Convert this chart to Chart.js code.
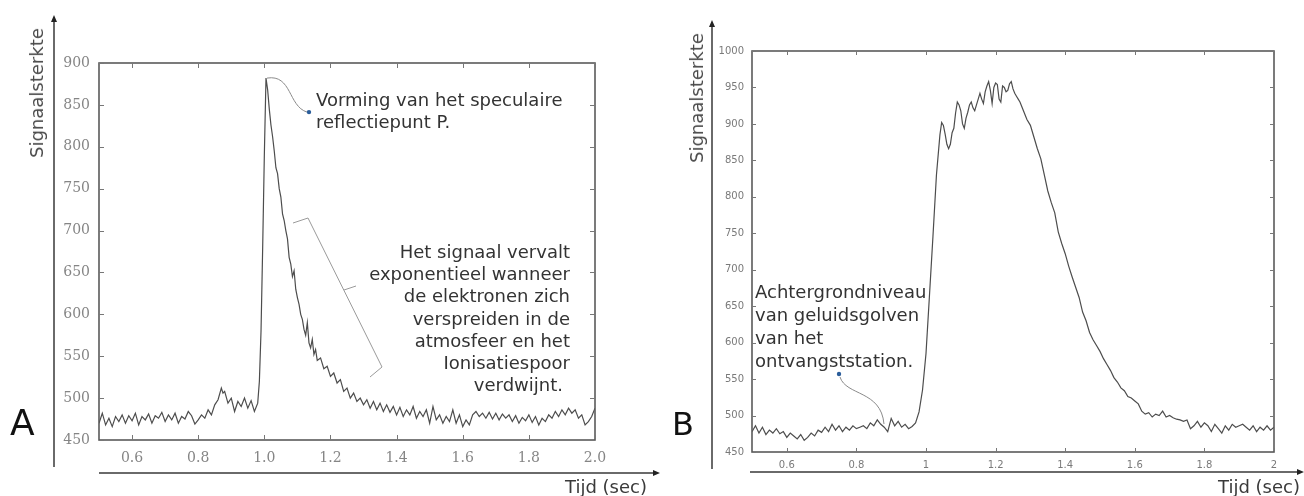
<!DOCTYPE html>
<html>
<head>
<meta charset="utf-8">
<script src="https://cdn.jsdelivr.net/npm/chart.js@4.4.1/dist/chart.umd.min.js"></script>
<style>
  body { margin: 0; background: #fff; }
  #wrap { position: relative; width: 1304px; height: 496px; overflow: hidden; background: #fff; }
  canvas { position: absolute; left: 0; top: 0; }
  .txt { position: absolute; font-family: "DejaVu Sans", sans-serif; font-size: 18px; line-height: 22px; color: #333; white-space: nowrap; }
  .ytitle { position: absolute; font-family: "DejaVu Sans", sans-serif; font-size: 18px; line-height: 22px; color: #4a4a4a; white-space: nowrap; transform: translate(-50%, -50%) rotate(-90deg); }
  .xtitle { position: absolute; font-family: "DejaVu Sans", sans-serif; font-size: 18px; line-height: 22px; color: #3a3a3a; white-space: nowrap; }
  .letter { position: absolute; font-family: "DejaVu Sans", sans-serif; color: #111; }
</style>
</head>
<body>
<div id="wrap">
  <canvas id="chartA" width="1304" height="496"></canvas>
  <canvas id="chartB" width="1304" height="496"></canvas>

  <div class="ytitle" style="left:37px; top:93px;">Signaalsterkte</div>
  <div class="ytitle" style="left:697px; top:98px;">Signaalsterkte</div>
  <div class="xtitle" style="left:565px; top:476px;">Tijd (sec)</div>
  <div class="xtitle" style="left:1218px; top:476px;">Tijd (sec)</div>
  <div class="letter" style="left:10px; top:405px; font-size:36px; line-height:36px;">A</div>
  <div class="letter" style="left:672px; top:408px; font-size:32px; line-height:32px;">B</div>

  <div class="txt" style="left:316px; top:89px;">Vorming van het speculaire<br>reflectiepunt P.</div>
  <div class="txt" style="left:330px; top:241px; width:240px; text-align:right; line-height:22.2px;">
    Het signaal vervalt<br>exponentieel wanneer<br>de elektronen zich<br>verspreiden in de<br>atmosfeer en het<br>Ionisatiespoor<br><span style="margin-right:7px;">verdwijnt.</span>
  </div>
  <div class="txt" style="left:755px; top:280px; line-height:23px;">Achtergrondniveau<br>van geluidsgolven<br>van het<br>ontvangststation.</div>
</div>

<script>
// Panel A - time (sec) and signal strength
const timeA = [
  0.50, 0.51, 0.52, 0.53, 0.54, 0.55, 0.56, 0.57, 0.58, 0.59,
  0.60, 0.61, 0.62, 0.63, 0.64, 0.65, 0.66, 0.67, 0.68, 0.69,
  0.70, 0.71, 0.72, 0.73, 0.74, 0.75, 0.76, 0.77, 0.78, 0.79,
  0.80, 0.81, 0.82, 0.83, 0.84, 0.85, 0.86, 0.87, 0.875, 0.88, 0.89,
  0.90, 0.91, 0.92, 0.93, 0.94, 0.95, 0.96, 0.97, 0.98,
  0.985, 0.99, 0.995, 1.00, 1.005, 1.01, 1.015, 1.02, 1.025, 1.03,
  1.035, 1.04, 1.045, 1.05, 1.055, 1.06, 1.065, 1.07, 1.075, 1.08,
  1.085, 1.09, 1.095, 1.10, 1.105, 1.11, 1.115, 1.12, 1.125, 1.13,
  1.135, 1.14, 1.145, 1.15, 1.155, 1.16,
  1.17, 1.18, 1.19, 1.20, 1.21, 1.22, 1.23, 1.24, 1.25, 1.26,
  1.27, 1.28, 1.29, 1.30, 1.31, 1.32, 1.33, 1.34, 1.35, 1.36,
  1.37, 1.38, 1.39, 1.40, 1.41, 1.42, 1.43, 1.44, 1.45, 1.46,
  1.47, 1.48, 1.49, 1.50, 1.51, 1.52, 1.53, 1.54, 1.55, 1.56,
  1.57, 1.58, 1.59, 1.60, 1.61, 1.62, 1.63, 1.64, 1.65, 1.66,
  1.67, 1.68, 1.69, 1.70, 1.71, 1.72, 1.73, 1.74, 1.75, 1.76,
  1.77, 1.78, 1.79, 1.80, 1.81, 1.82, 1.83, 1.84, 1.85, 1.86,
  1.87, 1.88, 1.89, 1.90, 1.91, 1.92, 1.93, 1.94, 1.95, 1.96,
  1.97, 1.98, 1.99, 2.00
];
const signalA = [
  470, 482, 468, 476, 466, 478, 472, 480, 470, 479,
  473, 482, 468, 478, 474, 481, 470, 479, 476, 483,
  472, 480, 474, 482, 470, 478, 475, 484, 479, 469,
  474, 480, 476, 486, 480, 492, 498, 512, 506, 508, 494,
  500, 484, 496, 490, 500, 488, 497, 484, 494,
  520, 580, 680, 790, 882, 868, 845, 826, 812, 795,
  775, 768, 750, 740, 720, 712, 700, 690, 668, 660,
  645, 652, 630, 620, 612, 600, 594, 582, 575, 590,
  566, 560, 570, 552, 558, 545,
  548, 535, 538, 526, 530, 518, 522, 508, 512, 500,
  506, 496, 500, 492, 498, 488, 496, 486, 494, 484,
  492, 483, 490, 480, 489, 478, 486, 480, 490, 476,
  484, 478, 486, 470, 490, 474, 480, 470, 478, 472,
  486, 470, 480, 466, 474, 468, 480, 484, 478, 482,
  476, 483, 475, 482, 474, 481, 476, 480, 472, 479,
  470, 477, 473, 480, 471, 478, 468, 476, 472, 480,
  476, 484, 478, 486, 480, 488, 482, 486, 476, 480,
  468, 472, 478, 488
];
const xTicksA = [0.6, 0.8, 1.0, 1.2, 1.4, 1.6, 1.8, 2.0];
const yTicksA = [450, 500, 550, 600, 650, 700, 750, 800, 850, 900];

// Panel B - time (sec) and signal strength
const timeB = [
  0.50, 0.51, 0.52, 0.53, 0.54, 0.55, 0.56, 0.57, 0.58, 0.59,
  0.60, 0.61, 0.62, 0.63, 0.64, 0.65, 0.66, 0.67, 0.68, 0.69,
  0.70, 0.71, 0.72, 0.73, 0.74, 0.75, 0.76, 0.77, 0.78, 0.79,
  0.80, 0.81, 0.82, 0.83, 0.84, 0.85, 0.86, 0.87, 0.88, 0.89,
  0.90, 0.91, 0.92, 0.93, 0.94, 0.95, 0.96, 0.97, 0.98, 0.99,
  1.00, 1.01, 1.02, 1.03, 1.04,
  1.045, 1.05, 1.055, 1.06, 1.065, 1.07, 1.075, 1.08, 1.085, 1.09,
  1.095, 1.10, 1.105, 1.11, 1.115, 1.12, 1.125, 1.13, 1.135, 1.14,
  1.145, 1.15, 1.155, 1.16, 1.165, 1.17, 1.175, 1.18, 1.185, 1.19,
  1.195, 1.20, 1.205, 1.21, 1.215, 1.22, 1.225, 1.23, 1.235, 1.24,
  1.245, 1.25, 1.255, 1.26, 1.265,
  1.27, 1.28, 1.29, 1.30, 1.31, 1.32, 1.33, 1.34, 1.35, 1.36,
  1.37, 1.38, 1.39, 1.40, 1.41, 1.42, 1.43, 1.44, 1.45, 1.46,
  1.47, 1.48, 1.49, 1.50, 1.51, 1.52, 1.53, 1.54, 1.55, 1.56,
  1.57, 1.58, 1.59, 1.60, 1.61, 1.62, 1.63, 1.64, 1.65, 1.66,
  1.67, 1.68, 1.69, 1.70, 1.71, 1.72, 1.73, 1.74, 1.75, 1.76,
  1.77, 1.78, 1.79, 1.80, 1.81, 1.82, 1.83, 1.84, 1.85, 1.86,
  1.87, 1.88, 1.89, 1.90, 1.91, 1.92, 1.93, 1.94, 1.95, 1.96,
  1.97, 1.98, 1.99, 2.00
];
const signalB = [
  478, 486, 476, 484, 474, 480, 476, 482, 475, 478,
  470, 476, 472, 468, 474, 466, 470, 476, 472, 480,
  477, 484, 478, 488, 480, 486, 478, 484, 480, 486,
  482, 484, 486, 482, 490, 486, 494, 488, 484, 478,
  496, 486, 492, 484, 488, 482, 485, 490, 505, 535,
  585, 665, 746, 830, 885,
  902, 898, 886, 872, 866, 872, 888, 894, 915, 930,
  926, 918, 900, 894, 908, 916, 926, 930, 922, 918,
  926, 934, 942, 934, 928, 944, 952, 958, 946, 928,
  950, 956, 954, 934, 930, 952, 950, 944, 946, 955,
  958, 948, 942, 938, 934,
  930, 918, 906, 898, 882, 866, 852, 830, 808, 792,
  778, 752, 736, 722, 705, 690, 676, 662, 642, 630,
  614, 604, 596, 588, 578, 570, 562, 552, 546, 538,
  534, 526, 524, 520, 516, 506, 502, 504, 498, 502,
  500, 506, 498, 500, 497, 495, 494, 492, 494, 482,
  486, 492, 484, 490, 486, 478, 488, 482, 476, 486,
  480, 488, 484, 486, 488, 484, 480, 486, 478, 484,
  480, 486, 480, 484
];
const xTicksB = [0.6, 0.8, 1, 1.2, 1.4, 1.6, 1.8, 2];
const yTicksB = [450, 500, 550, 600, 650, 700, 750, 800, 850, 900, 950, 1000];

// box, inward ticks, arrow axes and leader lines
const framePlugin = {
  id: 'frame',
  afterDraw(chart, args, opts) {
    const { ctx, chartArea: a, scales: { x, y } } = chart;
    ctx.save();
    ctx.strokeStyle = '#5a5a5a';
    ctx.lineWidth = 1.6;
    ctx.strokeRect(a.left, a.top, a.right - a.left, a.bottom - a.top);

    const L = opts.tickLen;
    ctx.strokeStyle = '#777';
    ctx.lineWidth = 1;
    ctx.beginPath();
    x.ticks.forEach(t => {
      const px = Math.round(x.getPixelForValue(t.value)) + 0.5;
      ctx.moveTo(px, a.bottom); ctx.lineTo(px, a.bottom - L);
      ctx.moveTo(px, a.top); ctx.lineTo(px, a.top + L);
    });
    y.ticks.forEach(t => {
      const py = Math.round(y.getPixelForValue(t.value)) + 0.5;
      ctx.moveTo(a.left, py); ctx.lineTo(a.left + L, py);
      ctx.moveTo(a.right, py); ctx.lineTo(a.right - L, py);
    });
    ctx.stroke();

    // outer arrow axes
    const ax = opts.arrows;
    ctx.strokeStyle = '#6a6a6a';
    ctx.fillStyle = '#222';
    ctx.lineWidth = 2;
    ctx.beginPath();
    ctx.moveTo(ax.vx, ax.vBottom); ctx.lineTo(ax.vx, ax.vTop + 4);
    ctx.moveTo(ax.hLeft, ax.hy); ctx.lineTo(ax.hRight - 4, ax.hy);
    ctx.stroke();
    ctx.beginPath();
    ctx.moveTo(ax.vx, ax.vTop - 2); ctx.lineTo(ax.vx - 3, ax.vTop + 5); ctx.lineTo(ax.vx + 3, ax.vTop + 5); ctx.closePath();
    ctx.moveTo(ax.hRight + 2, ax.hy); ctx.lineTo(ax.hRight - 5, ax.hy - 3); ctx.lineTo(ax.hRight - 5, ax.hy + 3); ctx.closePath();
    ctx.fill();

    if (opts.leaders) opts.leaders(ctx, chart);
    ctx.restore();
  }
};

function dot(ctx, px, py) {
  ctx.fillStyle = '#2b5d9a';
  ctx.beginPath();
  ctx.arc(px, py, 2.2, 0, Math.PI * 2);
  ctx.fill();
}

function makeChart(id, times, values, xTicks, yTicks, layout) {
  return new Chart(document.getElementById(id), {
    type: 'line',
    data: {
      datasets: [{
        data: times.map((t, i) => ({ x: t, y: values[i] })),
        borderColor: '#4d4d4d',
        borderWidth: 1.2,
        pointRadius: 0,
        tension: 0,
        fill: false
      }]
    },
    plugins: [framePlugin],
    options: {
      responsive: false,
      animation: false,
      devicePixelRatio: 1,
      layout: { padding: layout.padding },
      scales: {
        x: {
          type: 'linear',
          min: 0.5,
          max: 2.0,
          grid: { display: false, drawTicks: false },
          border: { display: false },
          afterBuildTicks: s => { s.ticks = xTicks.map(v => ({ value: v })); },
          afterFit: s => { s.height = layout.xHeight; },
          ticks: {
            padding: layout.xPad,
            maxRotation: 0,
            autoSkip: false,
            color: layout.tickColor,
            font: layout.tickFont,
            callback: layout.xFormat
          }
        },
        y: {
          min: yTicks[0],
          max: yTicks[yTicks.length - 1],
          grid: { display: false, drawTicks: false },
          border: { display: false },
          afterBuildTicks: s => { s.ticks = yTicks.map(v => ({ value: v })); },
          afterFit: s => { s.width = layout.yWidth; },
          ticks: {
            padding: layout.yPad,
            autoSkip: false,
            color: layout.tickColor,
            font: layout.tickFont,
            callback: v => String(v)
          }
        }
      },
      plugins: {
        legend: { display: false },
        tooltip: { enabled: false },
        frame: layout.frame
      }
    }
  });
}

// Panel A: plot box 99..595 x 63..440
makeChart('chartA', timeA, signalA, xTicksA, yTicksA, {
  padding: { left: 0, top: 63, right: 709, bottom: 0 },
  yWidth: 99,
  xHeight: 56,
  xPad: 10,
  yPad: 9,
  tickColor: '#858585',
  tickFont: { family: 'DejaVu Serif', size: 14 },
  xFormat: v => Number(v).toFixed(1),
  frame: {
    tickLen: 5,
    arrows: { vx: 54, vTop: 17, vBottom: 467, hy: 473, hLeft: 99, hRight: 658 },
    leaders(ctx, chart) {
      const { x, y } = chart.scales;
      const px = x.getPixelForValue(1.005), py = y.getPixelForValue(882);
      ctx.strokeStyle = '#8a8a8a';
      ctx.lineWidth = 1;
      ctx.beginPath();
      ctx.moveTo(px + 1, py);
      ctx.bezierCurveTo(px + 26, py - 4, px + 22, py + 28, px + 41, py + 34);
      ctx.stroke();
      dot(ctx, px + 43, py + 34);
      // bracket along the decay
      ctx.strokeStyle = '#9a9a9a';
      ctx.beginPath();
      ctx.moveTo(293, 223); ctx.lineTo(308, 218); ctx.lineTo(382, 367); ctx.lineTo(370, 377);
      ctx.moveTo(344, 290); ctx.lineTo(356, 286);
      ctx.stroke();
    }
  }
});

// Panel B: plot box 752..1274 x 51..452
makeChart('chartB', timeB, signalB, xTicksB, yTicksB, {
  padding: { left: 692, top: 51, right: 30, bottom: 0 },
  yWidth: 60,
  xHeight: 44,
  xPad: 7,
  yPad: 8,
  tickColor: '#7a7a7a',
  tickFont: { family: 'DejaVu Sans', size: 10 },
  xFormat: v => String(v),
  frame: {
    tickLen: 4,
    arrows: { vx: 712, vTop: 22, vBottom: 469, hy: 472, hLeft: 750, hRight: 1302 },
    leaders(ctx) {
      ctx.strokeStyle = '#8a8a8a';
      ctx.lineWidth = 1;
      ctx.beginPath();
      ctx.moveTo(840, 377);
      ctx.bezierCurveTo(846, 396, 881, 390, 884, 424);
      ctx.stroke();
      dot(ctx, 839, 374);
    }
  }
});
</script>
</body>
</html>
